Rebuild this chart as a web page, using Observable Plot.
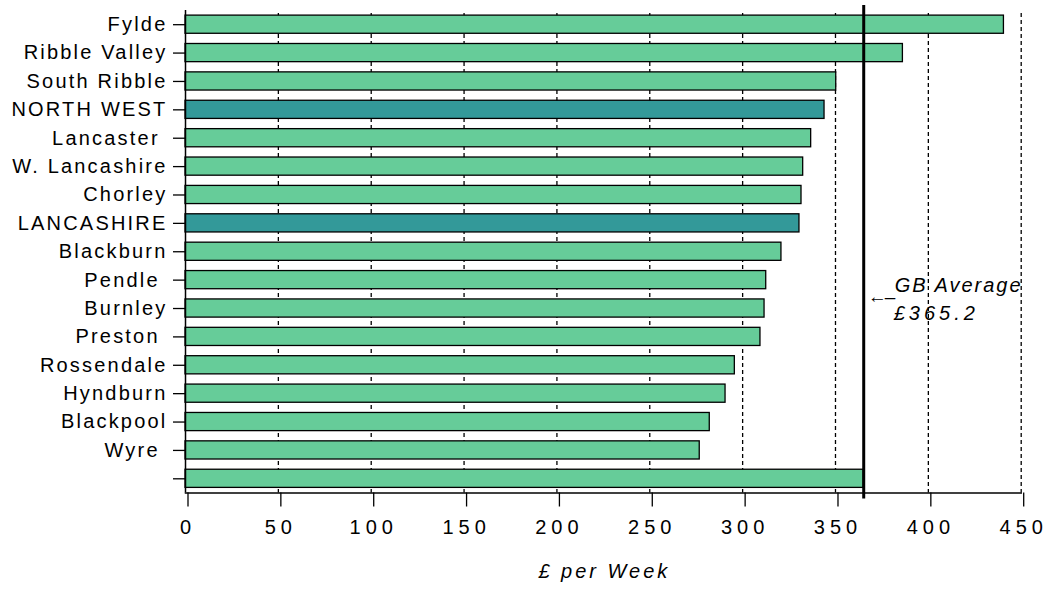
<!DOCTYPE html>
<html><head><meta charset="utf-8">
<script src="https://cdn.jsdelivr.net/npm/d3@7"></script>
<script src="https://cdn.jsdelivr.net/npm/@observablehq/plot@0.6"></script>
<style>
body{margin:0;background:#fff;}
#chart svg{font-family:"Liberation Sans",Arial,sans-serif;}
g[aria-label="y-axis tick label"] text{letter-spacing:2.2px;}
g[aria-label="x-axis tick label"] text{letter-spacing:5px;}
</style>
</head><body><div id="chart"></div>
<script>
const areas = ["Fylde","Ribble Valley","South Ribble","NORTH WEST","Lancaster\u00a0","W. Lancashire","Chorley","LANCASHIRE","Blackburn","Pendle\u00a0","Burnley","Preston\u00a0","Rossendale","Hyndburn","Blackpool","Wyre\u00a0",""];
const earnings = [440.7,386.3,350.4,344.1,336.9,332.6,331.7,330.6,320.9,312.7,311.8,309.6,295.8,290.8,282.3,276.9,365.2];
const kinds = ["district","district","district","region","district","district","district","region","district","district","district","district","district","district","district","district","district"];
const xTicks = [0,50,100,150,200,250,300,350,400,450];
const gbAverage = 365.2;
const gbLabel = "GB Average";
const gbValueLabel = "£365.2";
const xTitle = "£ per Week";

const green = "#66cc99", teal = "#339999";
const data = areas.map((name, i) => ({name, value: earnings[i], kind: kinds[i]}));

const chart = Plot.plot({
  width: 1051, height: 592,
  marginTop: 10, marginBottom: 99.5, marginLeft: 185, marginRight: 30.3,
  style: {background: "#fff", color: "#000", fontSize: "20px"},
  x: {domain: [0, 450], axis: null},
  y: {domain: areas, paddingInner: 0.36, paddingOuter: 0.18, round: false, axis: null},
  marks: [
    Plot.ruleX(xTicks.filter(t => t > 0), {stroke: "#000", strokeWidth: 1.3, strokeDasharray: "4,3", insetTop: 3}),
    Plot.barX(data.filter(d => d.kind === "district"), {x: "value", y: "name", fill: green, stroke: "#000", strokeWidth: 1.3}),
    Plot.barX(data.filter(d => d.kind === "region"), {x: "value", y: "name", fill: teal, stroke: "#000", strokeWidth: 1.3}),
    Plot.ruleX([0], {stroke: "#000", strokeWidth: 1.5}),
    Plot.frame({anchor: "bottom", stroke: "#000", strokeWidth: 1.5}),
    Plot.ruleX([gbAverage], {stroke: "#000", strokeWidth: 3, insetTop: -5, insetBottom: -6}),
    Plot.axisX({ticks: xTicks, tickFormat: d => String(d), tickSize: 14, tickPadding: 13, strokeWidth: 1.3, fontSize: 20, label: null, dx: 2.5}),
    Plot.axisY({tickSize: 12, tickPadding: 6, strokeWidth: 1.3, fontSize: 20, label: null}),
    Plot.text([xTitle], {frameAnchor: "bottom", dy: 85, dx: 1, fontSize: 20, fontStyle: "italic", text: d => d}),
    Plot.text([gbLabel], {x: [gbAverage], y: [areas[9]], dx: 31, dy: 5, textAnchor: "start", fontSize: 20, fontStyle: "italic", text: d => d}),
    Plot.text([gbValueLabel], {x: [gbAverage], y: [areas[10]], dx: 30, dy: 5, textAnchor: "start", fontSize: 20, fontStyle: "italic", text: d => d}),
    Plot.text(["←–"], {x: [gbAverage], y: [areas[9]], dx: 4, dy: 17, textAnchor: "start", fontSize: 19, text: d => d})
  ]
});
document.getElementById("chart").appendChild(chart);
// letter spacing for the free text labels (style only)
const texts = chart.querySelectorAll('g[aria-label="text"]');
const spacing = ["3px", "2px", "4px", "-2px"];
texts.forEach((g, i) => { g.style.letterSpacing = spacing[i] || "0px"; });
</script>
</body></html>
